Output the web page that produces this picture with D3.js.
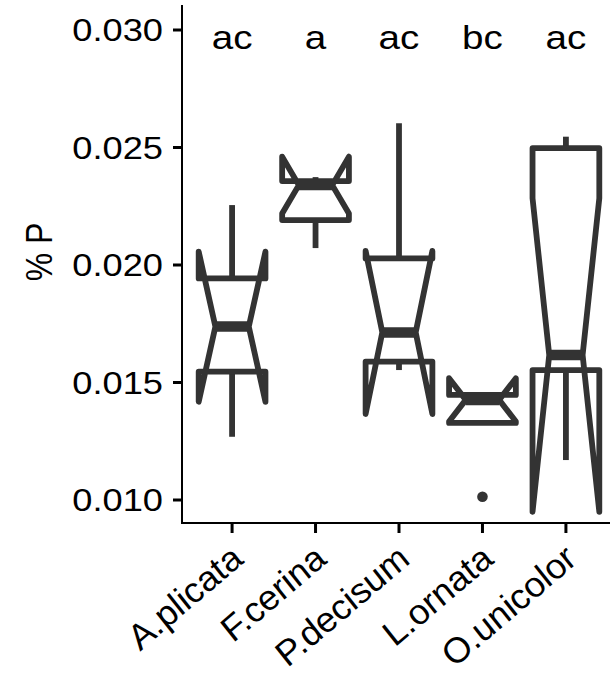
<!DOCTYPE html>
<html>
<head>
<meta charset="utf-8">
<script src="https://cdn.jsdelivr.net/npm/d3@7"></script>
<style>
  body { margin: 0; background: #fff; }
  text { font-family: "Liberation Sans", Arial, sans-serif; fill: #000; }
</style>
</head>
<body>
<div id="chart"></div>
<script>
// species (x categories)
var species = ["A.plicata", "F.cerina", "P.decisum", "L.ornata", "O.unicolor"];
// boxplot stats (% P)
var ymin       = [0.01269, 0.02072, 0.01553, 0.01328, 0.01170];
var lower      = [0.01546, 0.02191, 0.01589, 0.01328, 0.01553];
var notchLower = [0.01418, 0.02219, 0.01366, 0.01334, 0.00950];
var middle     = [0.01738, 0.02340, 0.01713, 0.01426, 0.01617];
var notchUpper = [0.02057, 0.02461, 0.02060, 0.01518, 0.02284];
var upper      = [0.01943, 0.02357, 0.02028, 0.01447, 0.02497];
var ymax       = [0.02255, 0.02374, 0.02603, 0.01447, 0.02546];
var outliers   = [[], [], [], [0.01014], []];
var letters    = ["ac", "a", "ac", "bc", "ac"];
var yTicks     = [0.010, 0.015, 0.020, 0.025, 0.030];
var letterY    = 0.0292;

function init(){
    var w = 610, h = 675;
    var left = 182, top = 5, bottom = 523, right = 616;
    var sx = 1.17; // text in the picture is stretched sideways
    var col = "#333333";

    var boxes = species.map(function(s, i){
        return {name: s, ymin: ymin[i], lower: lower[i], nl: notchLower[i], mid: middle[i],
                nu: notchUpper[i], upper: upper[i], ymax: ymax[i], out: outliers[i], letter: letters[i]};
    });

    var xScale = d3.scalePoint()
                    .domain(species)
                    .range([left, right])
                    .padding(0.6);
    var yScale = d3.scaleLinear()
                    .domain([0.010, 0.030])
                    .range([500, 30]);

    var bw = xScale.step() * 0.8;
    var notch = bw * 0.25;

    var svg = d3.select("#chart")
                .append("svg")
                .attr("width", w)
                .attr("height", h);

    // whiskers
    var g = svg.selectAll("g.box")
        .data(boxes)
        .enter()
        .append("g")
        .attr("class", "box");

    g.append("line")
        .attr("x1", function(d){ return xScale(d.name); })
        .attr("x2", function(d){ return xScale(d.name); })
        .attr("y1", function(d){ return yScale(d.upper); })
        .attr("y2", function(d){ return yScale(d.ymax); })
        .attr("stroke", col).attr("stroke-width", 5.8);
    g.append("line")
        .attr("x1", function(d){ return xScale(d.name); })
        .attr("x2", function(d){ return xScale(d.name); })
        .attr("y1", function(d){ return yScale(d.lower); })
        .attr("y2", function(d){ return yScale(d.ymin); })
        .attr("stroke", col).attr("stroke-width", 5.8);

    // notched box (ggplot style polygon)
    g.append("path")
        .attr("d", function(d){
            var xc = xScale(d.name), x0 = xc - bw/2, x1 = xc + bw/2;
            var pts = [
                [x0, yScale(d.upper)], [x0, yScale(d.nu)], [x0 + notch, yScale(d.mid)],
                [x0, yScale(d.nl)], [x0, yScale(d.lower)], [x1, yScale(d.lower)],
                [x1, yScale(d.nl)], [x1 - notch, yScale(d.mid)], [x1, yScale(d.nu)],
                [x1, yScale(d.upper)]
            ];
            return d3.line()(pts) + "Z";
        })
        .attr("fill", "white")
        .attr("stroke", col)
        .attr("stroke-width", 5.8)
        .attr("stroke-linejoin", "round");

    // median
    g.append("line")
        .attr("x1", function(d){ return xScale(d.name) - bw/2 + notch; })
        .attr("x2", function(d){ return xScale(d.name) + bw/2 - notch; })
        .attr("y1", function(d){ return yScale(d.mid); })
        .attr("y2", function(d){ return yScale(d.mid); })
        .attr("stroke", col).attr("stroke-width", 10.5);

    // outliers
    g.selectAll("circle")
        .data(function(d){ return d.out.map(function(v){ return {name: d.name, v: v}; }); })
        .enter()
        .append("circle")
        .attr("cx", function(d){ return xScale(d.name); })
        .attr("cy", function(d){ return yScale(d.v); })
        .attr("r", 5.3)
        .attr("fill", col);

    // letters
    g.append("text")
        .attr("transform", function(d){
            return "translate(" + xScale(d.name) + "," + yScale(letterY) + ") scale(" + sx + ",1)";
        })
        .attr("text-anchor", "middle")
        .attr("font-size", "33px")
        .text(function(d){ return d.letter; });

    // axes lines
    svg.append("line").attr("x1", left).attr("x2", left).attr("y1", top).attr("y2", bottom + 1)
        .attr("stroke", "#000").attr("stroke-width", 2);
    svg.append("line").attr("x1", left - 1).attr("x2", right).attr("y1", bottom).attr("y2", bottom)
        .attr("stroke", "#000").attr("stroke-width", 2);

    // y ticks
    var yt = svg.selectAll("g.ytick").data(yTicks).enter().append("g").attr("class", "ytick");
    yt.append("line")
        .attr("x1", left - 9).attr("x2", left)
        .attr("y1", function(d){ return yScale(d); })
        .attr("y2", function(d){ return yScale(d); })
        .attr("stroke", "#000").attr("stroke-width", 3);
    yt.append("text")
        .attr("transform", function(d){
            return "translate(" + (left - 19) + "," + yScale(d) + ") scale(" + sx + ",1)";
        })
        .attr("text-anchor", "end")
        .attr("dy", "0.36em")
        .attr("font-size", "31px")
        .text(function(d){ return d3.format(".3f")(d); });

    // x ticks
    var xt = svg.selectAll("g.xtick").data(species).enter().append("g").attr("class", "xtick");
    xt.append("line")
        .attr("x1", function(d){ return xScale(d); })
        .attr("x2", function(d){ return xScale(d); })
        .attr("y1", bottom).attr("y2", bottom + 10)
        .attr("stroke", "#000").attr("stroke-width", 3);
    xt.append("text")
        .attr("transform", function(d){
            return "translate(" + (xScale(d) + 14) + "," + (bottom + 38) + ") scale(" + sx + ",1) rotate(-45)";
        })
        .attr("text-anchor", "end")
        .attr("font-style", "italic")
        .attr("font-size", "33px")
        .text(function(d){ return d; });

    // y title
    svg.append("text")
        .attr("transform", "translate(52," + (yScale(0.020) - 13) + ") scale(" + sx + ",1) rotate(-90)")
        .attr("text-anchor", "middle")
        .attr("font-size", "32px")
        .text("% P");
}

window.onload = init;
</script>
</body>
</html>
